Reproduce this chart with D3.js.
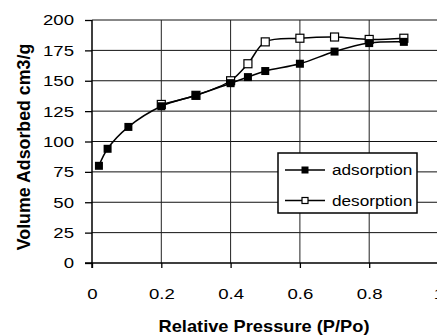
<!DOCTYPE html>
<html>
<head>
<meta charset="utf-8">
<script src="https://cdn.jsdelivr.net/npm/d3@7"></script>
<style>
  body { margin: 0; background: #fff; }
  svg { display: block; font-family: "Liberation Sans", Arial, sans-serif; }
</style>
</head>
<body>
<script>
// isotherm data
var adsX = [0.02, 0.045, 0.105, 0.2, 0.3, 0.4, 0.45, 0.5, 0.6, 0.7, 0.8, 0.9];
var adsY = [80, 94, 112, 129, 138, 148, 153, 158, 164, 174, 181, 182];
var desX = [0.2, 0.3, 0.4, 0.45, 0.5, 0.6, 0.7, 0.8, 0.9];
var desY = [130.5, 138, 150, 164, 182, 185, 186, 184, 185];
var xTicks = [0, 0.2, 0.4, 0.6, 0.8, 1];
var yTicks = [0, 25, 50, 75, 100, 125, 150, 175, 200];
var seriesNames = ["adsorption", "desorption"];

var w = 437, h = 336;
var plotLeft = 92, plotTop = 20, plotBottom = 263;

var svg = d3.select("body").append("svg")
    .attr("width", w)
    .attr("height", h);

var x = d3.scaleLinear().domain([0, 1]).range([plotLeft, plotLeft + 346.5]);
var y = d3.scaleLinear().domain([0, 200]).range([plotBottom, plotTop]);

// the original text is a bit wider than Arial, stretch it sideways
function stretch(sel, k) {
    sel.each(function() {
        var t = d3.select(this);
        var tx = +t.attr("x") || 0;
        t.attr("x", tx / k).attr("transform", "scale(" + k + ",1)");
    });
}

// grid
svg.append("g").selectAll("line")
    .data(yTicks.filter(d => d > 0))
    .enter().append("line")
    .attr("x1", plotLeft).attr("x2", w)
    .attr("y1", d => y(d)).attr("y2", d => y(d))
    .style("stroke", "#111").style("stroke-width", 1);

svg.append("g").selectAll("line")
    .data(xTicks.filter(d => d > 0 && d < 1))
    .enter().append("line")
    .attr("x1", d => x(d)).attr("x2", d => x(d))
    .attr("y1", plotTop).attr("y2", plotBottom)
    .style("stroke", "#222").style("stroke-width", 1);

// axes
var yAxis = svg.append("g")
    .attr("transform", "translate(" + plotLeft + ",0)")
    .call(d3.axisLeft(y).tickValues(yTicks).tickSize(7).tickPadding(11));
var xAxis = svg.append("g")
    .attr("transform", "translate(0," + plotBottom + ")")
    .call(d3.axisBottom(x).tickValues(xTicks).tickSize(5).tickPadding(20)
        .tickFormat(d => d === 0 ? "0" : d3.format("")(d)));

[yAxis, xAxis].forEach(function(a) {
    a.select(".domain").style("stroke", "#000").style("stroke-width", 1.5);
    a.selectAll(".tick line").style("stroke", "#000").style("stroke-width", 1.3);
    a.selectAll("text").style("font-size", "15.5px").style("fill", "#000")
        .style("font-family", "'Liberation Sans', Arial, sans-serif");
    stretch(a.selectAll("text"), 1.2);
});
yAxis.select(".domain").attr("d", "M-7," + y(0) + "H0V" + y(200));
xAxis.select(".domain").attr("d", "M" + plotLeft + ",5V0H" + w);

// axis titles
svg.append("text")
    .attr("transform", "translate(264,331.5) scale(1.12,1)")
    .attr("text-anchor", "middle")
    .style("font-size", "16.3px").style("font-weight", "bold")
    .text("Relative Pressure (P/Po)");

svg.append("text")
    .attr("transform", "translate(30,147) rotate(-90)")
    .attr("text-anchor", "middle")
    .style("font-size", "17.8px").style("font-weight", "bold")
    .text("Volume Adsorbed cm3/g");

// series
var line = d3.line()
    .x(d => x(d[0])).y(d => y(d[1]))
    .curve(d3.curveCatmullRom.alpha(0.5));

var des = d3.zip(desX, desY);
var ads = d3.zip(adsX, adsY);

svg.append("path").datum(des)
    .attr("d", line)
    .style("fill", "none").style("stroke", "#000").style("stroke-width", 1.5);
svg.append("g").selectAll("rect")
    .data(des).enter().append("rect")
    .attr("x", d => x(d[0]) - 4).attr("y", d => y(d[1]) - 4)
    .attr("width", 8).attr("height", 8)
    .style("fill", "#fff").style("stroke", "#000").style("stroke-width", 1.2);

svg.append("path").datum(ads)
    .attr("d", line)
    .style("fill", "none").style("stroke", "#000").style("stroke-width", 1.5);
svg.append("g").selectAll("rect")
    .data(ads).enter().append("rect")
    .attr("x", d => x(d[0]) - 4).attr("y", d => y(d[1]) - 4)
    .attr("width", 8).attr("height", 8)
    .style("fill", "#000");

// legend
var legend = svg.append("g").attr("transform", "translate(278,153)");
legend.append("rect")
    .attr("width", 139).attr("height", 60)
    .style("fill", "#fff").style("stroke", "#000").style("stroke-width", 1.5);

var rows = legend.selectAll(".row")
    .data(seriesNames).enter().append("g")
    .attr("transform", (d, i) => "translate(0," + (17 + i * 30.5) + ")");
rows.append("line")
    .attr("x1", 7).attr("x2", 47)
    .style("stroke", "#000").style("stroke-width", 1.5);
rows.append("rect")
    .attr("x", (d, i) => i ? 24 : 23.5).attr("y", (d, i) => i ? -3 : -3.5)
    .attr("width", (d, i) => i ? 6 : 7).attr("height", (d, i) => i ? 6 : 7)
    .style("fill", (d, i) => i ? "#fff" : "#000")
    .style("stroke", "#000").style("stroke-width", (d, i) => i ? 1.2 : 0);
rows.append("text")
    .attr("x", 54).attr("dy", "0.35em")
    .style("font-size", "15.5px")
    .text(d => d);
stretch(rows.selectAll("text"), 1.11);
</script>
</body>
</html>
